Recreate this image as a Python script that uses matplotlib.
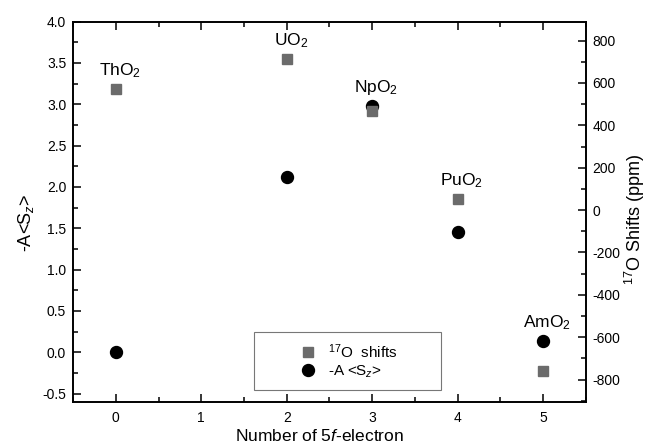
import matplotlib
matplotlib.use('Agg')
import matplotlib.pyplot as plt

plt.rcParams['font.family'] = 'Liberation Sans'
plt.rcParams['mathtext.fontset'] = 'custom'
plt.rcParams['mathtext.rm'] = 'Liberation Sans'
plt.rcParams['mathtext.it'] = 'Liberation Sans:italic'
plt.rcParams['axes.unicode_minus'] = False

# data
compounds = ['ThO$_2$', 'UO$_2$', 'NpO$_2$', 'PuO$_2$', 'AmO$_2$']
n_5f = [0, 2, 3, 4, 5]
minus_a_sz = [0.0, 2.12, 2.98, 1.45, 0.13]
o17_shift = [571, 713, 469, 50, -761]

fig = plt.figure(figsize=(6.53, 4.48), dpi=100)
ax = fig.add_axes([0.112, 0.103, 0.785, 0.849])
ax2 = ax.twinx()

sq_color = '#6b6b6b'
ax.plot(n_5f, minus_a_sz, 'o', color='black', markersize=8.6, label='-A <S$_z$>')
ax2.plot(n_5f, o17_shift, 's', color=sq_color, markersize=7.2, label='$^{17}$O  shifts')

ax.set_xlim(-0.5, 5.5)
ax.set_ylim(-0.6, 4.0)
ax2.set_ylim(-905, 890)

ax.set_xticks(range(6))
ax.set_xticks([i + 0.5 for i in range(-1, 6)], minor=True)
ax.set_yticks([-0.5 + 0.5 * i for i in range(10)])
ax.set_yticks([-0.25 + 0.5 * i for i in range(9)], minor=True)
ax2.set_yticks(range(-800, 801, 200))
ax2.set_yticks(range(-900, 900, 200), minor=True)

ax.tick_params(which='both', direction='in', top=True, labelsize=10, width=1.1)
ax.tick_params(which='major', length=6)
ax.tick_params(which='minor', length=3.5)
ax2.tick_params(which='both', direction='in', labelsize=10, width=1.1)
ax2.tick_params(which='major', length=6)
ax2.tick_params(which='minor', length=3.5)
ax.tick_params(axis='x', pad=6.5)
ax.tick_params(axis='y', pad=5)
ax2.tick_params(axis='y', pad=5)

for a in (ax, ax2):
    for s in a.spines.values():
        s.set_linewidth(1.2)

ax.set_xlabel('Number of 5$\\it{f}$-electron', fontsize=12.5)
ax.xaxis.set_label_coords(0.481, -0.068)
ax.set_ylabel('-A<S$_z$>', fontsize=13)
ax.yaxis.set_label_coords(-0.072, 0.47)
ax2.set_ylabel('$^{17}$O Shifts (ppm)', fontsize=13)
ax2.yaxis.set_label_coords(1.072, 0.48)

# compound labels placed above the upper marker
for i, name in enumerate(compounds):
    if name in ('NpO$_2$', 'AmO$_2$'):
        ax.annotate(name, (n_5f[i], minus_a_sz[i]), xytext=(3, 10),
                    textcoords='offset points', ha='center', va='baseline',
                    fontsize=12.5)
    else:
        ax2.annotate(name, (n_5f[i], o17_shift[i]), xytext=(3, 10),
                     textcoords='offset points', ha='center', va='baseline',
                     fontsize=12.5)

h1, l1 = ax2.get_legend_handles_labels()
h2, l2 = ax.get_legend_handles_labels()
leg = ax2.legend(h1 + h2, l1 + l2, loc='lower left',
                 bbox_to_anchor=(0.353, 0.031, 0.365, 0.147), mode='expand',
                 fontsize=11, frameon=True, fancybox=False, edgecolor='#555555',
                 borderpad=0.65, labelspacing=0.2, handlelength=5.8,
                 handletextpad=-1.6, borderaxespad=0)
leg.get_frame().set_linewidth(0.8)

fig.savefig('out.png', dpi=100)
